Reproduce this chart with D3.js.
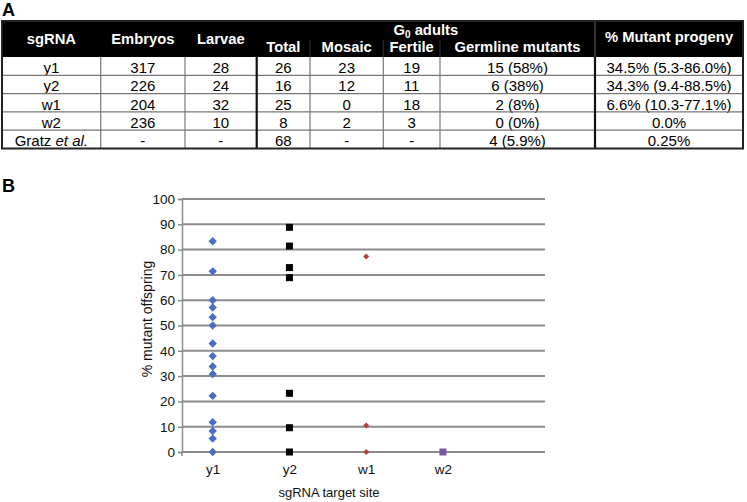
<!DOCTYPE html>
<html><head><meta charset="utf-8">
<script src="https://cdn.jsdelivr.net/npm/d3@7"></script>
<style>body{margin:0;background:#fff}svg{display:block}text{font-family:"Liberation Sans",Arial,sans-serif}</style>
</head><body><svg id="c" width="747" height="502"></svg>
<script>
// ---- Table data (panel A)
const tableHeaders = ["sgRNA","Embryos","Larvae","Total","Mosaic","Fertile","Germline mutants","% Mutant progeny"];
const sgRNAs = ["y1","y2","w1","w2","Gratz et al."];
const embryos = ["317","226","204","236","-"];
const larvae = ["28","24","32","10","-"];
const total = ["26","16","25","8","68"];
const mosaic = ["23","12","0","2","-"];
const fertile = ["19","11","18","3","-"];
const germline = ["15 (58%)","6 (38%)","2 (8%)","0 (0%)","4 (5.9%)"];
const mutantProgeny = ["34.5% (5.3-86.0%)","34.3% (9.4-88.5%)","6.6% (10.3-77.1%)","0.0%","0.25%"];

// ---- Scatter data (panel B)
const categories = ["y1","y2","w1","w2"];
const y1Values = [83.3,71.4,60,57.1,53.3,50,42.9,37.9,33.8,30.8,22.2,11.8,8.3,5.3,0];
const y2Values = [88.8,81.4,72.9,68.9,23.2,9.6,0];
const w1Values = [77.3,10.5,0];
const w2Values = [0];
const yTicks = [0,10,20,30,40,50,60,70,80,90,100];

const svg = d3.select("#c");

// ---------- Panel A ----------
svg.append("text").attr("x",2).attr("y",16).attr("font-size",18).attr("font-weight","bold").text("A");
const colEdges = [2,100.7,185,256.7,310,383.3,440,595,743];
const tTop = 21, hBottom = 57, rowH = 18.3;
const cx = i => (colEdges[i]+colEdges[i+1])/2;
svg.append("rect").attr("x",colEdges[0]).attr("y",tTop).attr("width",colEdges[8]-colEdges[0]).attr("height",hBottom-tTop).attr("fill","#000");
const hdr = svg.append("g").attr("fill","#fff").attr("font-weight","bold").attr("font-size",14.8).attr("text-anchor","middle");
[0,1,2].forEach(i=>hdr.append("text").attr("x",cx(i)).attr("y",44).text(tableHeaders[i]));
[3,4,5,6].forEach(i=>hdr.append("text").attr("x",cx(i)).attr("y",52).text(tableHeaders[i]));
hdr.append("text").attr("x",cx(7)).attr("y",42).text(tableHeaders[7]);
const g0 = hdr.append("text").attr("x",(colEdges[3]+colEdges[7])/2).attr("y",35);
g0.append("tspan").text("G");
g0.append("tspan").attr("font-size",10).attr("dy",3).text("0");
g0.append("tspan").attr("dy",-3).text(" adults");
[4,5,6].forEach(i=>svg.append("line").attr("x1",colEdges[i]).attr("x2",colEdges[i]).attr("y1",40).attr("y2",hBottom).attr("stroke","#333").attr("stroke-width",1));
svg.append("line").attr("x1",colEdges[7]).attr("x2",colEdges[7]).attr("y1",tTop).attr("y2",hBottom).attr("stroke","#444").attr("stroke-width",1.5);

const cols = [sgRNAs,embryos,larvae,total,mosaic,fertile,germline,mutantProgeny];
const body = svg.append("g").attr("font-size",15).attr("text-anchor","middle").attr("fill","#000");
sgRNAs.forEach((s,r)=>{
  const yy = hBottom + rowH*r + 16;
  cols.forEach((col,c)=>{
    const t = body.append("text").attr("x",cx(c)).attr("y",yy);
    if(c===0 && col[r]==="Gratz et al."){ t.append("tspan").text("Gratz "); t.append("tspan").attr("font-style","italic").text("et al."); }
    else t.text(col[r]);
  });
});
const tBottom = hBottom + rowH*sgRNAs.length;
d3.range(1,sgRNAs.length).forEach(r=>svg.append("line").attr("x1",colEdges[0]).attr("x2",colEdges[8]).attr("y1",hBottom+rowH*r).attr("y2",hBottom+rowH*r).attr("stroke","#777").attr("stroke-width",1.2));
[1,2,4,5,6].forEach(i=>svg.append("line").attr("x1",colEdges[i]).attr("x2",colEdges[i]).attr("y1",hBottom).attr("y2",tBottom).attr("stroke","#777").attr("stroke-width",1.2));
[3,7].forEach(i=>svg.append("line").attr("x1",colEdges[i]).attr("x2",colEdges[i]).attr("y1",hBottom).attr("y2",tBottom).attr("stroke","#111").attr("stroke-width",2.2));
svg.append("rect").attr("x",colEdges[0]).attr("y",tTop).attr("width",colEdges[8]-colEdges[0]).attr("height",tBottom-tTop).attr("fill","none").attr("stroke","#222").attr("stroke-width",2);

// ---------- Panel B ----------
svg.append("text").attr("x",2).attr("y",192).attr("font-size",18).attr("font-weight","bold").text("B");
const pL = 182, pR = 545, pT = 199, pB = 452;
const yS = d3.scaleLinear().domain([0,100]).range([pB,pT]);
const xS = d3.scaleLinear().domain([0.6,5.33]).range([pL,pR]);

svg.append("g").selectAll("line").data(yTicks).join("line")
  .attr("x1",pL).attr("x2",pR).attr("y1",d=>yS(d)).attr("y2",d=>yS(d))
  .attr("stroke","#8c8c8c").attr("stroke-width",2);
const yAx = svg.append("g").attr("transform",`translate(${pL},0)`)
  .call(d3.axisLeft(yS).tickValues(yTicks).tickSize(4).tickPadding(3));
yAx.select(".domain").attr("stroke","#8c8c8c").attr("stroke-width",1.5);
yAx.selectAll(".tick line").attr("stroke","#8c8c8c").attr("stroke-width",1.5);
yAx.selectAll("text").attr("font-size",13.5).attr("fill","#111").attr("font-family","Liberation Sans, Arial, sans-serif");
const xAx = svg.append("g").attr("transform",`translate(0,${pB})`)
  .call(d3.axisBottom(xS).tickValues([1,2,3,4]).tickFormat((d,i)=>categories[i]).tickSize(0).tickPadding(12));
xAx.select(".domain").remove();
xAx.selectAll("text").attr("font-size",13.5).attr("fill","#111").attr("font-family","Liberation Sans, Arial, sans-serif");
svg.append("line").attr("x1",pL).attr("x2",pL).attr("y1",pB).attr("y2",pB+4).attr("stroke","#8c8c8c").attr("stroke-width",1.5);

svg.append("text").attr("x",329).attr("y",497).attr("text-anchor","middle").attr("font-size",13).attr("fill","#111").text("sgRNA target site");
svg.append("text").attr("transform",`translate(152,319) rotate(-90)`).attr("text-anchor","middle").attr("font-size",14).attr("fill","#111").text("% mutant offspring");

const diamond = s => `M0,${-s}L${s},0L0,${s}L${-s},0Z`;
svg.append("g").selectAll("path").data(y1Values).join("path")
  .attr("d",diamond(4.2)).attr("transform",d=>`translate(${xS(1)},${yS(d)})`).attr("fill","#4a6fc2");
svg.append("g").selectAll("rect").data(y2Values).join("rect")
  .attr("x",xS(2)-3.5).attr("y",d=>yS(d)-3.5).attr("width",7).attr("height",7).attr("fill","#000");
svg.append("g").selectAll("path").data(w1Values).join("path")
  .attr("d",diamond(3)).attr("transform",d=>`translate(${xS(3)},${yS(d)})`).attr("fill","#b0413e");
svg.append("g").selectAll("rect").data(w2Values).join("rect")
  .attr("x",xS(4)-3.5).attr("y",d=>yS(d)-3.5).attr("width",7).attr("height",7).attr("fill","#7a56a6");
</script></body></html>
